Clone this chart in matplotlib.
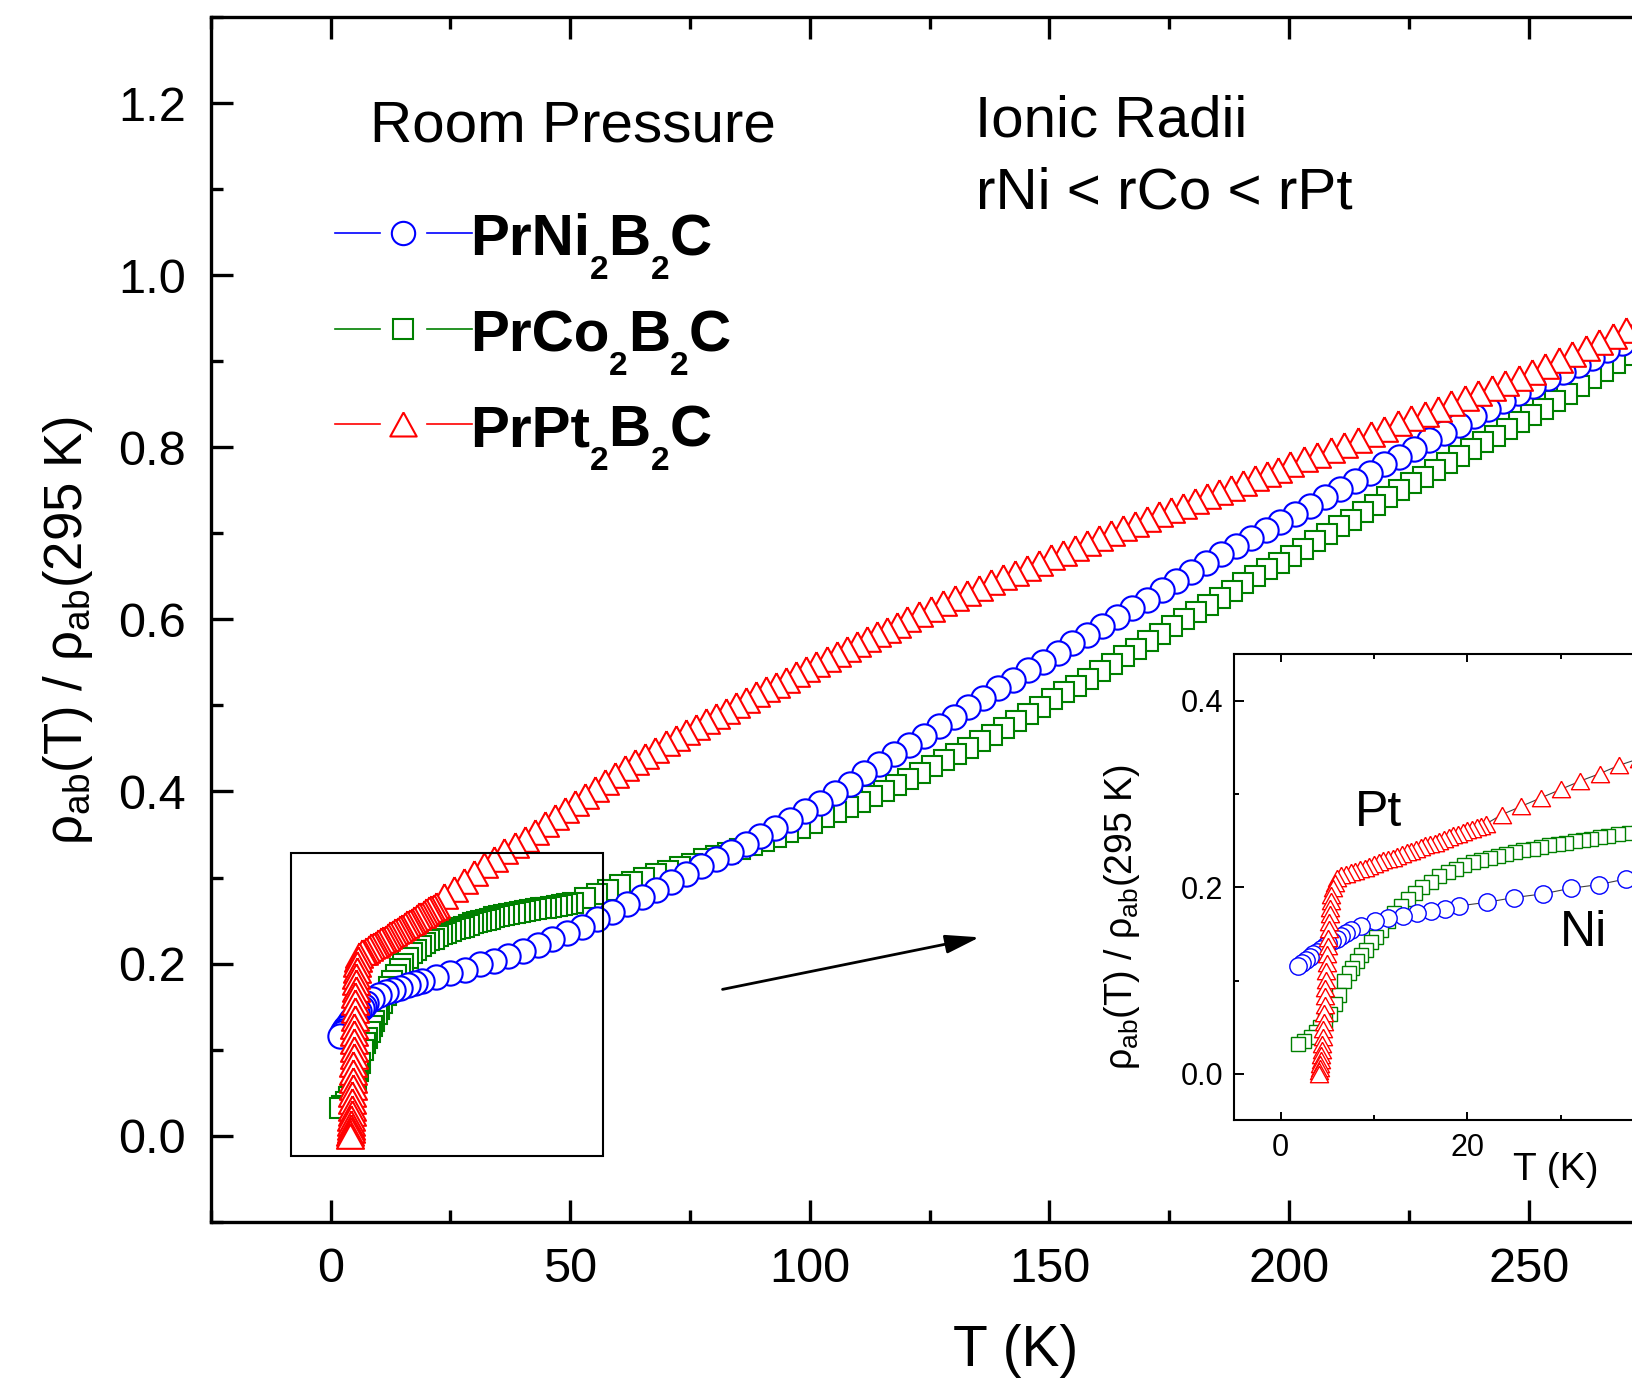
import matplotlib

matplotlib.use("Agg")
import matplotlib.pyplot as plt
from matplotlib.lines import Line2D
from matplotlib.patches import Rectangle
from matplotlib.ticker import MultipleLocator, FuncFormatter

plt.rcParams["font.family"] = ["Liberation Sans", "DejaVu Sans"]
plt.rcParams["mathtext.fontset"] = "custom"
plt.rcParams["mathtext.rm"] = "Liberation Sans"
plt.rcParams["mathtext.it"] = "Liberation Sans:italic"
plt.rcParams["mathtext.bf"] = "Liberation Sans:bold"

W, H = 1632, 1383

# ---- data: T (K), rho(T)/rho(295 K) ----
PT_T = [
    4.1, 4.15, 4.2, 4.25, 4.3, 4.35, 4.4, 4.45, 4.5, 4.55, 4.6, 4.65, 4.7, 4.75, 4.8,
    4.85, 4.9, 4.95, 5.0, 5.05, 5.1, 5.15, 5.2, 5.25, 5.3, 5.35, 5.45, 5.6, 5.8, 6.0,
    6.5, 7.0, 7.5, 8.0, 8.5, 9.0, 9.5, 10.0, 10.5, 11.0, 11.5, 12.0, 12.5, 13.0, 13.5,
    14.0, 14.5, 15.0, 15.5, 16.0, 16.5, 17.0, 17.5, 18.0, 18.5, 19.0, 19.5, 20.0, 20.5,
    21.0, 21.5, 22.0,
    23.7, 25.8, 27.9, 30.0, 32.1, 34.2, 36.3, 38.4, 40.5, 42.6, 44.7, 46.8, 48.9, 51.0,
    53.1, 55.2, 57.3, 59.4, 61.5, 63.6, 65.7, 67.8, 69.9, 72.0, 74.1, 76.2, 78.3, 80.4,
    82.5, 84.6, 86.7, 88.8, 90.9, 93.0, 95.1, 97.2, 99.3, 101.4, 103.5, 105.6, 107.7,
    109.8, 111.9, 114.0, 116.1, 118.2, 120.3,
    122.8, 125.3, 127.8, 130.3, 132.8, 135.3, 137.8, 140.3, 142.8, 145.3, 147.8, 150.3,
    152.8, 155.3, 157.8, 160.3, 162.8, 165.3, 167.8, 170.3, 172.8, 175.3, 177.8, 180.3,
    182.8, 185.3, 187.8, 190.3, 192.8, 195.3, 197.8, 200.3,
    203.1, 205.9, 208.7, 211.5, 214.3, 217.1, 219.9, 222.7, 225.5, 228.3, 231.1, 233.9,
    236.7, 239.5, 242.3, 245.1, 247.9, 250.7, 253.5, 256.3, 259.1, 261.9, 264.7, 267.5,
    270.3, 273.1,
]
PT_R = [
    0.000, 0.003, 0.006, 0.010, 0.015, 0.020, 0.026, 0.032, 0.040, 0.048, 0.056, 0.065,
    0.074, 0.083, 0.092, 0.101, 0.110, 0.119, 0.128, 0.137, 0.146, 0.155, 0.163, 0.171,
    0.178, 0.185, 0.192, 0.199, 0.205, 0.210,
    0.213, 0.214, 0.216, 0.218, 0.220, 0.221, 0.223, 0.225, 0.227, 0.229, 0.230, 0.232,
    0.234, 0.236, 0.238, 0.239, 0.241, 0.243, 0.245, 0.247, 0.248, 0.250, 0.252, 0.254,
    0.256, 0.257, 0.259, 0.261, 0.263, 0.265, 0.266, 0.268,
    0.278, 0.287, 0.296, 0.305, 0.314, 0.322, 0.331, 0.338, 0.345, 0.353, 0.362, 0.370,
    0.379, 0.387, 0.395, 0.403, 0.411, 0.419, 0.427, 0.434, 0.441, 0.448, 0.456, 0.462,
    0.469, 0.475, 0.482, 0.488, 0.494, 0.500, 0.506, 0.513, 0.519, 0.524, 0.530, 0.536,
    0.542, 0.548, 0.554, 0.560, 0.566, 0.571, 0.577, 0.583, 0.588, 0.594, 0.600,
    0.606, 0.612, 0.619, 0.625, 0.631, 0.637, 0.643, 0.649, 0.654, 0.660, 0.666, 0.672,
    0.677, 0.683, 0.689, 0.695, 0.700, 0.706, 0.711, 0.717, 0.722, 0.727, 0.732, 0.738,
    0.743, 0.748, 0.753, 0.759, 0.764, 0.769, 0.774, 0.780,
    0.786, 0.791, 0.797, 0.803, 0.809, 0.815, 0.821, 0.828, 0.834, 0.839, 0.845, 0.851,
    0.857, 0.863, 0.869, 0.875, 0.881, 0.888, 0.894, 0.901, 0.908, 0.915, 0.922, 0.929,
    0.936, 0.943,
]

NI_T = [
    1.9, 2.3, 2.7, 3.1, 3.5, 3.9, 4.3, 4.7, 5.1, 5.5, 6.0, 6.5, 7.0, 7.5,
    8.6, 10.1, 11.5, 13.1, 14.6, 16.1, 17.6, 19.1,
    22.1, 25.0, 28.1, 31.1, 34.1, 37.0,
    40.1, 43.2, 46.3, 49.4, 52.5, 55.6, 58.7, 61.8, 64.9, 68.0, 71.1, 74.2, 77.3, 80.4,
    83.5, 86.6, 89.7, 92.8, 95.9, 99.0, 102.1, 105.2, 108.3, 111.4, 114.5, 117.6, 120.7,
    123.8, 126.9, 130.0, 133.1, 136.2, 139.3, 142.4, 145.5, 148.6, 151.7, 154.8, 157.9,
    161.0, 164.1, 167.2, 170.3, 173.4, 176.5, 179.6, 182.7, 185.8, 188.9, 192.0, 195.1,
    198.2, 201.3, 204.4, 207.5, 210.6, 213.7, 216.8, 219.9, 223.0, 226.1, 229.2, 232.3,
    235.4, 238.5, 241.6, 244.7, 247.8, 250.9, 254.0, 257.1, 260.2, 263.3, 266.4, 269.5,
    272.6,
]
NI_R = [
    0.116, 0.119, 0.122, 0.125, 0.128, 0.131, 0.134, 0.137, 0.140, 0.142, 0.145, 0.148,
    0.151, 0.154,
    0.159, 0.164, 0.167, 0.169, 0.172, 0.175, 0.177, 0.180,
    0.184, 0.189, 0.193, 0.199, 0.203, 0.209,
    0.215, 0.222, 0.229, 0.236, 0.243, 0.252, 0.260, 0.269, 0.277, 0.286, 0.295, 0.304,
    0.313, 0.321, 0.330, 0.339, 0.348, 0.357, 0.367, 0.377, 0.387, 0.398, 0.409, 0.421,
    0.432, 0.443, 0.454, 0.464, 0.476, 0.487, 0.498, 0.509, 0.520, 0.530, 0.541, 0.551,
    0.561, 0.572, 0.582, 0.592, 0.603, 0.613, 0.623, 0.634, 0.645, 0.655, 0.666, 0.676,
    0.685, 0.695, 0.704, 0.713, 0.723, 0.732, 0.742, 0.752, 0.761, 0.770, 0.780, 0.789,
    0.798, 0.808, 0.817, 0.826, 0.836, 0.845, 0.854, 0.863, 0.871, 0.880, 0.888, 0.896,
    0.904, 0.913, 0.921, 0.929,
]

CO_T = [
    1.9, 2.5, 3.2, 3.8, 4.25, 4.8, 5.3, 5.8, 6.25, 6.8, 7.3, 7.7, 8.2, 8.6, 9.1, 9.7,
    10.2, 10.8, 11.5, 12.2, 12.9, 13.7, 14.4, 15.2, 16.1, 17.0, 17.9, 18.8, 19.7, 20.6,
    21.5, 22.4, 23.3, 24.2, 25.1, 26.0, 27.0, 27.9, 28.8, 29.7, 30.6, 31.5, 32.4, 33.3,
    34.2, 35.1, 36.2, 37.3, 38.4, 39.5, 40.6, 41.7, 42.8, 43.9, 45.0, 46.1, 47.2, 48.3,
    49.4, 50.5,
    53.0, 55.5, 58.0, 60.5, 63.0, 65.5, 68.0, 70.5, 73.0, 75.5, 78.0, 80.5, 83.0, 85.5,
    88.0, 90.5, 93.0, 95.5, 98.0, 100.5, 103.0, 105.5, 108.0, 110.5, 113.0, 115.5,
    118.0, 120.5, 123.0, 125.5, 128.0, 130.5, 133.0, 135.5, 138.0, 140.5, 143.0, 145.5,
    148.0, 150.5, 153.0, 155.5, 158.0, 160.5, 163.0, 165.5, 168.0, 170.5, 173.0, 175.5,
    178.0, 180.5, 183.0, 185.5, 188.0, 190.5, 193.0, 195.5, 198.0, 200.5, 203.0, 205.5,
    208.0, 210.5, 213.0, 215.5, 218.0, 220.5, 223.0, 225.5, 228.0, 230.5, 233.0, 235.5,
    238.0, 240.5, 243.0, 245.5, 248.0, 250.5, 253.0, 255.5, 258.0, 260.5, 263.0, 265.5,
    268.0, 270.5, 273.0,
]
CO_R = [
    0.032, 0.035, 0.039, 0.045, 0.050, 0.057, 0.064, 0.075, 0.085, 0.100, 0.108, 0.114,
    0.121, 0.127, 0.133, 0.141, 0.147, 0.154, 0.164, 0.173, 0.180, 0.187, 0.194, 0.200,
    0.206, 0.212, 0.216, 0.220, 0.224, 0.227, 0.229, 0.232, 0.234, 0.236, 0.238, 0.240,
    0.241, 0.243, 0.245, 0.247, 0.248, 0.250, 0.251, 0.252, 0.254, 0.255, 0.257, 0.258,
    0.259, 0.260, 0.261, 0.262, 0.263, 0.264, 0.265, 0.266, 0.267, 0.268, 0.269, 0.270,
    0.276, 0.281, 0.286, 0.291, 0.295, 0.299, 0.304, 0.308, 0.312, 0.316, 0.321, 0.325,
    0.329, 0.333, 0.338, 0.342, 0.347, 0.353, 0.358, 0.363, 0.370, 0.376, 0.382, 0.388,
    0.395, 0.401, 0.408, 0.414, 0.422, 0.429, 0.436, 0.444, 0.451, 0.459, 0.466, 0.474,
    0.482, 0.490, 0.498, 0.507, 0.515, 0.523, 0.531, 0.540, 0.548, 0.557, 0.566, 0.575,
    0.583, 0.592, 0.600, 0.609, 0.617, 0.625, 0.633, 0.642, 0.650, 0.658, 0.666, 0.674,
    0.682, 0.691, 0.699, 0.708, 0.716, 0.725, 0.733, 0.742, 0.750, 0.758, 0.766, 0.774,
    0.782, 0.790, 0.798, 0.806, 0.813, 0.821, 0.829, 0.837, 0.845, 0.854, 0.862, 0.871,
    0.880, 0.889, 0.898, 0.907, 0.915,
]

LABELS = [
    [("PrNi", False), ("2", True), ("B", False), ("2", True), ("C", False)],
    [("PrCo", False), ("2", True), ("B", False), ("2", True), ("C", False)],
    [("PrPt", False), ("2", True), ("B", False), ("2", True), ("C", False)],
]

BLUE, GREEN, RED = "#0000ff", "#008000", "#ff0000"
TRI = [(0, 1), (-1.1, -1), (1.1, -1), (0, 1)]
YLABEL = r"$\mathrm{\rho_{ab}(T)\ /\ \rho_{ab}(295\ K)}$"


def fx(x):
    return x / W


def fy(y):
    return 1 - y / H


def visible_upto(limit):
    # the frame runs past the right edge of the picture: no labels out there
    return FuncFormatter(lambda v, pos: "" if v > limit else f"{v:g}")


fig = plt.figure(figsize=(W / 100, H / 100), dpi=100)
fig.patch.set_facecolor("white")

# ---------------- main axes ----------------
ax = fig.add_axes([fx(210.7), fy(1221.7), (1821 - 210.7) / W, (1221.7 - 17) / H])
ax.set_xlim(-25, 311)
ax.set_ylim(-0.1, 1.3)

series = [
    (CO_T, CO_R, GREEN, "s", 15.0, 2),
    (NI_T, NI_R, BLUE, "o", 17.5, 3),
    (PT_T, PT_R, RED, TRI, 19.5, 4),
]
# curves were taken on cooling, so the low-T points sit on top
for T, R, c, mk, ms, z in series:
    ax.plot(T[::-1], R[::-1], color=c, lw=1.0, marker=mk, ms=ms, mfc="white", mec=c,
            mew=1.5, zorder=z)

ax.xaxis.set_major_locator(MultipleLocator(50))
ax.xaxis.set_minor_locator(MultipleLocator(25))
ax.xaxis.set_major_formatter(visible_upto(260))
ax.yaxis.set_major_locator(MultipleLocator(0.2))
ax.yaxis.set_minor_locator(MultipleLocator(0.1))
ax.yaxis.set_major_formatter(plt.FormatStrFormatter("%.1f"))
ax.tick_params(which="both", direction="in", top=True, right=True, width=2.4)
ax.tick_params(which="major", length=16, labelsize=35, pad=18)
ax.tick_params(which="minor", length=8.3)
for sp in ax.spines.values():
    sp.set_linewidth(2.4)

# zoom box and arrow
ax.add_patch(Rectangle((-8.15, -0.024), 64.95, 0.352, fill=False, ec="black", lw=1.5,
                       zorder=6))
ax.annotate("", xy=(135.4, 0.2305), xytext=(81.8, 0.170),
            arrowprops=dict(arrowstyle="-|>,head_length=0.8,head_width=0.22",
                            color="black", lw=2, shrinkA=0, shrinkB=0,
                            mutation_scale=26))

# axis labels
fig.text(fx(1016), fy(1366), "T (K)", fontsize=41, ha="center", va="baseline")
fig.text(fx(68), fy(630.7), YLABEL, fontsize=38, rotation=90, ha="center", va="center")

# annotations
fig.text(fx(370), fy(141.7), "Room Pressure", fontsize=42, va="baseline")
fig.text(fx(975), fy(136.7), "Ionic Radii", fontsize=42, va="baseline")
fig.text(fx(976), fy(208.3), "rNi < rCo < rPt", fontsize=42, va="baseline")

# legend, drawn by hand like the Origin one
renderer = fig.canvas.get_renderer()
leg_rows = [(233.3, BLUE, "o", 16.8), (329.3, GREEN, "s", 14.4), (424.3, RED, TRI, 19.0)]
for (y, c, mk, ms), parts in zip(leg_rows, LABELS):
    fig.add_artist(Line2D([fx(335), fx(380)], [fy(y), fy(y)], color=c, lw=1.2))
    fig.add_artist(Line2D([fx(426.7), fx(472)], [fy(y), fy(y)], color=c, lw=1.2))
    fig.add_artist(Line2D([fx(403.3)], [fy(y)], ls="none", marker=mk, ms=ms,
                          mfc="white", mec=c, mew=1.5))
    x = 470
    for s, sub in parts:
        yy = y + 22 + (24 if sub else 0)
        t = fig.text(fx(x), fy(yy), s, fontsize=24 if sub else 42, fontweight="bold",
                     va="baseline", ha="left")
        x += t.get_window_extent(renderer).width

# ---------------- inset ----------------
ins = fig.add_axes([fx(1234), fy(1120.4), 653.1 / W, (1120.4 - 654.3) / H])
ins.set_xlim(-5, 65)
ins.set_ylim(-0.05, 0.45)
inset_series = [
    (CO_T, CO_R, GREEN, "s", 10.5, 2),
    (NI_T, NI_R, BLUE, "o", 12.5, 3),
    (PT_T, PT_R, RED, TRI, 13.0, 4),
]
for T, R, c, mk, ms, z in inset_series:
    ins.plot(T, R, color="#404040", lw=0.8, zorder=z - 0.5)
    ins.plot(T[::-1], R[::-1], ls="none", marker=mk, ms=ms, mfc="white", mec=c, mew=1.0,
             zorder=z)

ins.xaxis.set_major_locator(MultipleLocator(20))
ins.xaxis.set_minor_locator(MultipleLocator(10))
ins.xaxis.set_major_formatter(visible_upto(30))
ins.yaxis.set_major_locator(MultipleLocator(0.2))
ins.yaxis.set_minor_locator(MultipleLocator(0.1))
ins.yaxis.set_major_formatter(plt.FormatStrFormatter("%.1f"))
ins.tick_params(which="both", direction="in", top=True, right=True, width=1.4,
                labelsize=22)
ins.tick_params(axis="y", which="major", length=7, pad=7.7)
ins.tick_params(axis="x", which="major", length=6, pad=9.4)
ins.tick_params(which="minor", length=3.8)
for sp in ins.spines.values():
    sp.set_linewidth(1.5)

fig.text(fx(1556), fy(1180), "T (K)", fontsize=28, ha="center", va="baseline")
fig.text(fx(1121.5), fy(917.5), YLABEL, fontsize=27, rotation=90, ha="center",
         va="center")
fig.text(fx(1355), fy(826), "Pt", fontsize=36, va="baseline")
fig.text(fx(1560), fy(946.4), "Ni", fontsize=36, va="baseline")

fig.savefig("out.png", dpi=100, facecolor="white")
